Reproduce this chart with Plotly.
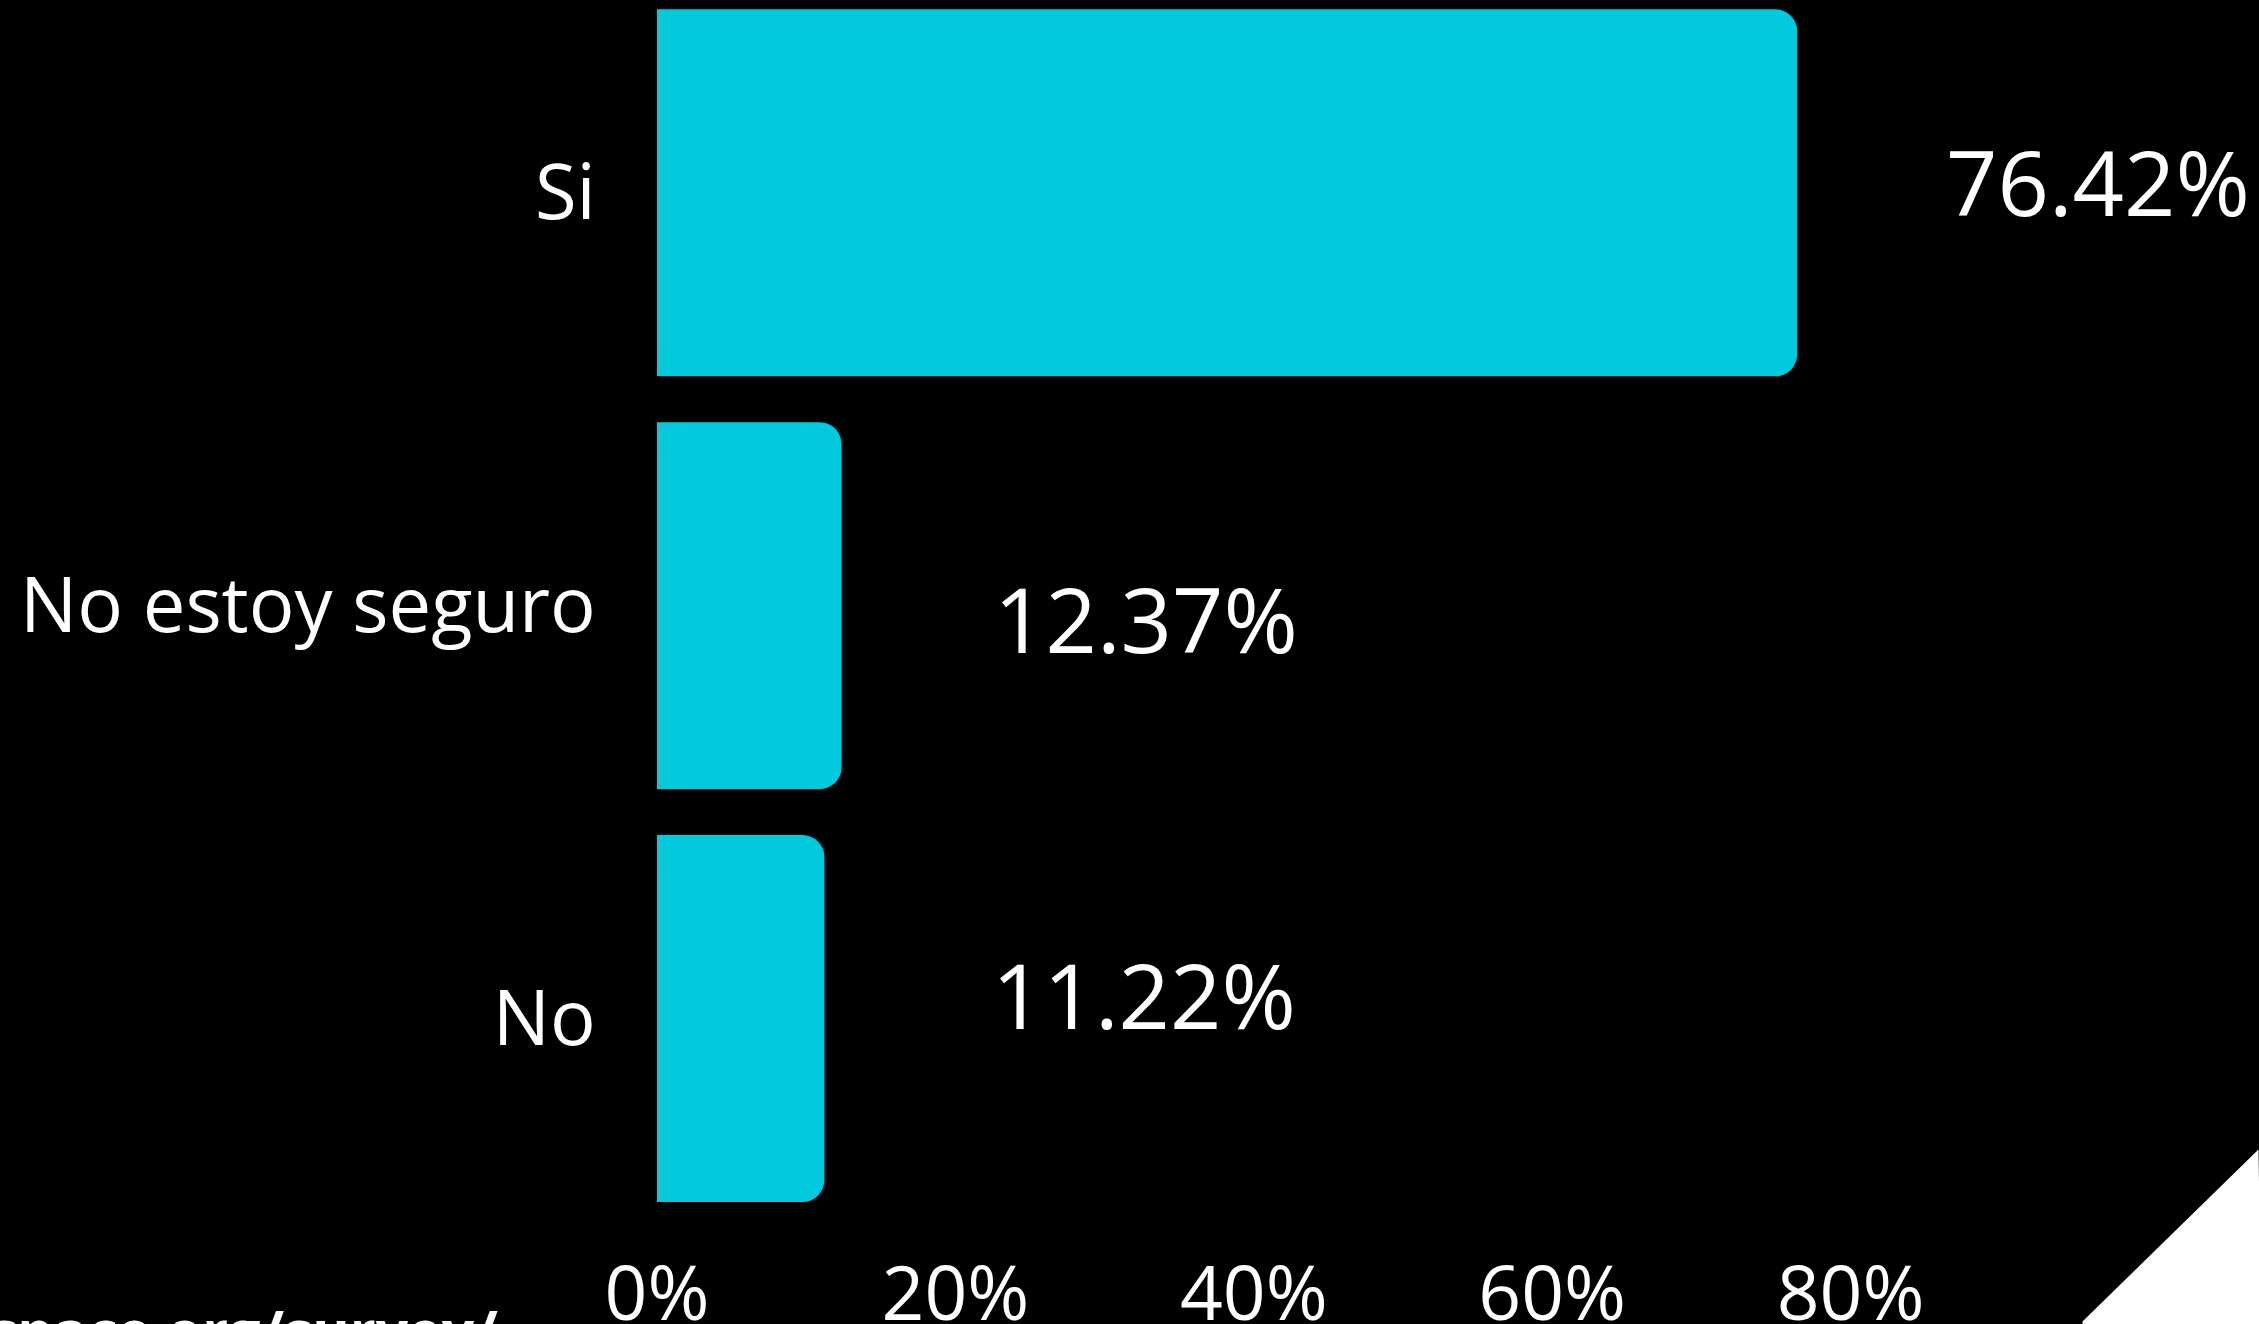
import plotly.graph_objects as go

categories = ["Si", "No estoy seguro", "No"]
values = [76.42, 12.37, 11.22]
value_labels = ["76.42%", "12.37%", "11.22%"]
x_tick_vals = [0, 20, 40, 60, 80]
x_tick_text = ["0%", "20%", "40%", "60%", "80%"]
source_text = "space.org/survey/"

# layout geometry (pixels)
FIG_W, FIG_H = 2259, 1324
L, T, B = 657, 0, 98.5
X_MAX = 100
PX_PER_UNIT = 14.925
PLOT_W = PX_PER_UNIT * X_MAX
R = FIG_W - L - PLOT_W
PLOT_H = FIG_H - T - B

def px_to_paper(px, py):
    return (px - L) / PLOT_W, (FIG_H - B - py) / PLOT_H

BAR_COLOR = "#02C9DC"
FONT = "Open Sans"

fig = go.Figure()
fig.add_trace(go.Bar(
    y=categories,
    x=values,
    orientation="h",
    width=0.889,
    marker=dict(color=BAR_COLOR, line=dict(width=0), cornerradius=22),
    hoverinfo="skip",
))

label_xshift = [147, 150, 166]
label_yshift = [12, -12, 25]
for cat, val, txt, xs, ys in zip(categories, values, value_labels, label_xshift, label_yshift):
    fig.add_annotation(
        x=val, y=cat, xref="x", yref="y", text=txt, showarrow=False,
        xanchor="left", yanchor="middle", xshift=xs, yshift=ys,
        font=dict(family=FONT, size=90, color="white"),
    )

# source text, cut off at the bottom-left
sx, sy = px_to_paper(500, 1331)
fig.add_annotation(
    x=sx, y=sy, xref="paper", yref="paper", text="<b>" + source_text + "</b>",
    showarrow=False, xanchor="right", yanchor="middle",
    font=dict(family=FONT, size=57, color="white"),
)

# white corner triangle at bottom-right
p1 = px_to_paper(2083, 1322)
p2 = px_to_paper(2259, 1150)
p3 = px_to_paper(2262, 1330)
p4 = px_to_paper(2083, 1330)
fig.add_shape(
    type="path", xref="paper", yref="paper",
    path=f"M {p1[0]},{p1[1]} L {p2[0]},{p2[1]} L {p3[0]},{p3[1]} L {p4[0]},{p4[1]} Z",
    fillcolor="white", line=dict(width=0), layer="above",
)

fig.update_layout(
    width=FIG_W, height=FIG_H,
    margin=dict(l=L, r=R, t=T, b=B, pad=0, autoexpand=False),
    paper_bgcolor="black", plot_bgcolor="black",
    showlegend=False,
    font=dict(family=FONT, color="white"),
    xaxis=dict(
        range=[0, X_MAX], tickvals=x_tick_vals, ticktext=x_tick_text,
        showgrid=False, zeroline=False, showline=False,
        ticks="outside", ticklen=4, tickcolor="black",
        tickfont=dict(family=FONT, size=75, color="white"),
        fixedrange=True, automargin=False,
    ),
    yaxis=dict(
        categoryorder="array", categoryarray=categories,
        range=[2.5, -0.467],
        showgrid=False, zeroline=False, showline=False,
        ticks="outside", ticklen=45, tickcolor="black",
        tickfont=dict(family=FONT, size=76, color="white"),
        fixedrange=True, automargin=False,
    ),
)

fig.write_html(
    "out.html",
    config={"displayModeBar": False},
    post_script="document.body.style.margin='0';document.body.style.overflow='hidden';",
)
